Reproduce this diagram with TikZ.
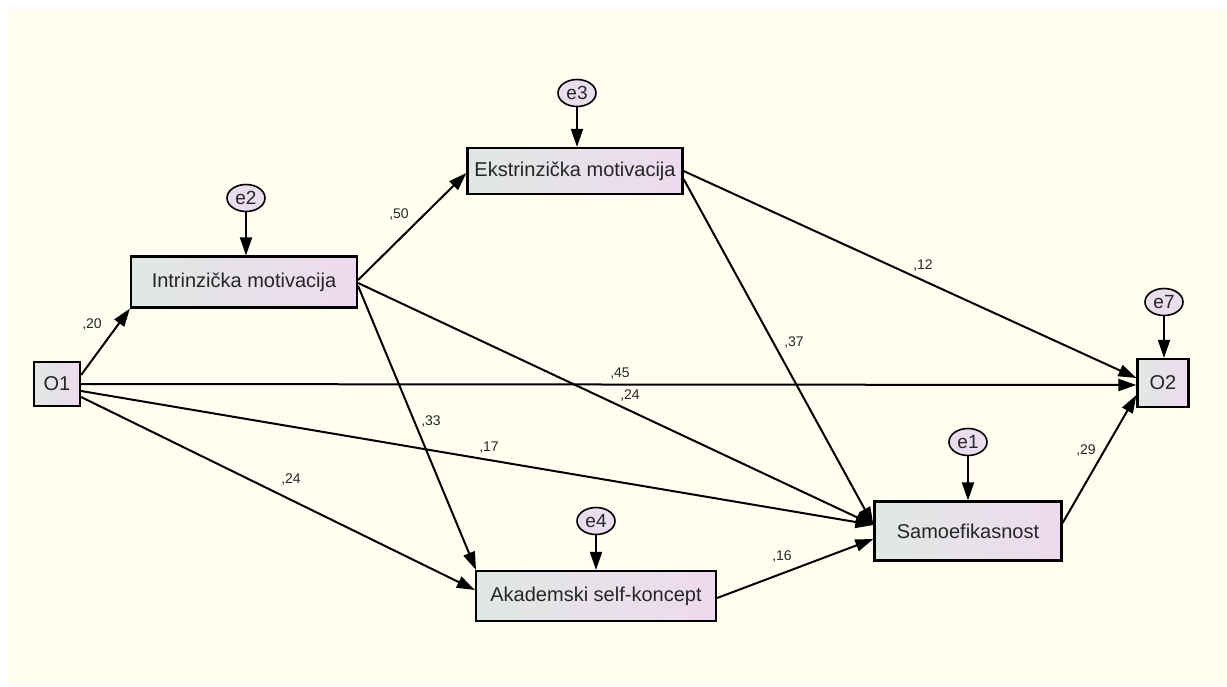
\documentclass[tikz,border=0pt]{standalone}
\usepackage{fontspec}
\setmainfont{Liberation Sans}
\usetikzlibrary{arrows.meta,shapes.geometric}
\definecolor{bgivory}{RGB}{255,254,240}
\definecolor{boxleft}{RGB}{224,232,228}
\definecolor{boxright}{RGB}{238,218,238}
\definecolor{errfill}{RGB}{234,222,238}
\tikzset{
  varbox/.style={draw=black, line width=2.2pt, rectangle, left color=boxleft, right color=boxright,
    font=\fontsize{20}{24}\selectfont, inner sep=0pt, text=black!85},
  errnode/.style={draw=black, line width=1.6pt, ellipse, fill=errfill, minimum width=38pt,
    minimum height=27pt, inner sep=0pt, font=\fontsize{19}{22}\selectfont, text=black!85},
  path/.style={line width=2pt, -{Triangle[length=18pt,width=12pt]}},
  coef/.style={font=\fontsize{14}{17}\selectfont, text=black!85, inner sep=0pt}
}
\begin{document}
\begin{tikzpicture}[x=1pt,y=-1pt]
\useasboundingbox (0,0) rectangle (1227,686);
\fill[white] (0,0) rectangle (1227,686);
\fill[bgivory] (8,10) rectangle (1227,686);

% observed variables
\node[varbox, minimum width=46pt, minimum height=44pt] (o1) at (57,384) {O1};
\node[varbox, minimum width=51pt, minimum height=48pt] (o2) at (1163,383) {O2};
\node[varbox, minimum width=226pt, minimum height=51pt] (intr) at (244,282) {Intrinzička motivacija};
\node[varbox, minimum width=215pt, minimum height=46pt] (ekst) at (575,171) {Ekstrinzička motivacija};
\node[varbox, minimum width=187pt, minimum height=59pt] (samo) at (968,531) {Samoefikasnost};
\node[varbox, minimum width=240pt, minimum height=50pt] (akad) at (596,596) {Akademski self-koncept};

% error terms
\node[errnode] (e2) at (246,198) {e2};
\node[errnode] (e3) at (577,93) {e3};
\node[errnode] (e7) at (1164,302) {e7};
\node[errnode] (e1) at (968,442) {e1};
\node[errnode] (e4) at (596,521) {e4};

\draw[path] (e2) -- (e2 |- intr.north);
\draw[path] (e3) -- (e3 |- ekst.north);
\draw[path] (e7) -- (e7 |- o2.north);
\draw[path] (e1) -- (e1 |- samo.north);
\draw[path] (e4) -- (e4 |- akad.north);

% structural paths
\draw[path] ([yshift=9pt]o1.east) -- (intr.south west);
\draw[path] (o1.east) -- ([yshift=-2pt]o2.west);
\draw[path] ([yshift=-7pt]o1.east) -- ([yshift=6pt]samo.west);
\draw[path] ([yshift=-13pt]o1.east) -- ([yshift=6pt]akad.west);
\draw[path] ([yshift=2pt]intr.east) -- ([yshift=-2pt]ekst.west);
\draw[path] ([yshift=-1pt]intr.east) -- ([yshift=6pt]samo.west);
\draw[path] ([yshift=-4pt]intr.east) -- ([xshift=-120pt]akad.north);
\draw[path] (ekst.east) -- ([yshift=5pt]o2.west);
\draw[path] ([yshift=-8pt]ekst.east) -- ([yshift=6pt]samo.west);
\draw[path] ([yshift=-2pt]akad.east) -- ([yshift=-8pt]samo.west);
\draw[path] ([yshift=8pt]samo.east) -- ([yshift=-12pt]o2.west);

% coefficients
\node[coef] (c1) at (92,325) {,20};
\node[coef] (c2) at (399,215) {,50};
\node[coef] (c3) at (923,266) {,12};
\node[coef] (c4) at (794,343) {,37};
\node[coef] (c5) at (620,374) {,45};
\node[coef] (c6) at (630,396) {,24};
\node[coef] (c7) at (431,422) {,33};
\node[coef] (c8) at (489,448) {,17};
\node[coef] (c9) at (291,480) {,24};
\node[coef] (c10) at (782,556) {,16};
\node[coef] (c11) at (1086,451) {,29};
\end{tikzpicture}
\end{document}
